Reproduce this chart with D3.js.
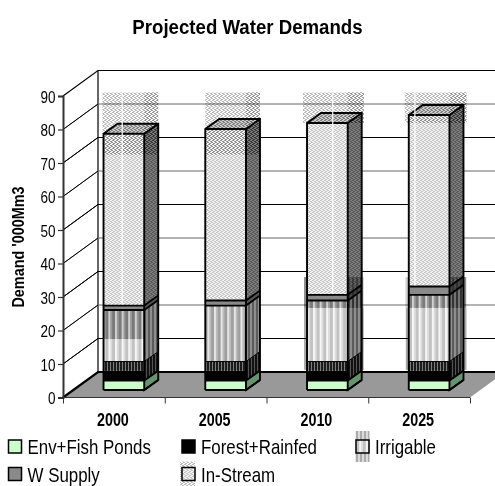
<!DOCTYPE html>
<html>
<head>
<meta charset="utf-8">
<style>
html,body{margin:0;padding:0;background:#fff}
svg{display:block}
text{font-family:"Liberation Sans",Arial,sans-serif;fill:#000}
</style>
<script src="https://cdn.jsdelivr.net/npm/d3@7"></script>
</head>
<body>
<svg id="chart" width="495" height="486"></svg>
<script>
// Stacked demand figures, thousand Mm3
const categories = ["2000", "2005", "2010", "2025"];
const envFish = [2.8, 2.8, 2.8, 2.8];
const forestRainfed = [5.7, 5.7, 5.7, 5.7];
const irrigable = [15.4, 16.7, 18.2, 19.9];
const wSupply = [1.3, 1.5, 1.7, 2.5];
const inStream = [51.3, 51.2, 51.3, 51.2];
const yTicks = [0, 10, 20, 30, 40, 50, 60, 70, 80, 90];

const W = 495, H = 486;
const svg = d3.select("#chart");
const y = d3.scaleLinear().domain([0, 90]).range([397.5, 96]);
const x = d3.scaleBand().domain(categories).range([63, 470]).paddingInner(0.6).paddingOuter(0.3);
const edges = d3.scaleLinear().domain([0, categories.length]).range([63, 470]);

// Oblique projection offsets
const wall = {dx: 35, dy: -25.5};
const plane = {dx: 10, dy: -7.5};
const depth = {dx: 14, dy: -10};
const NARROW = 0.82;

const defs = svg.append("defs");
function stripes(id, width, bands) {
  const p = defs.append("pattern").attr("id", id).attr("patternUnits", "userSpaceOnUse")
    .attr("width", width).attr("height", 4);
  bands.forEach(b => p.append("rect").attr("x", b[0]).attr("width", b[1]).attr("height", 4)
    .attr("fill", b[2]).attr("shape-rendering", "crispEdges"));
}
function dither(id, on, off) {
  const p = defs.append("pattern").attr("id", id).attr("patternUnits", "userSpaceOnUse")
    .attr("width", 4).attr("height", 4);
  if (off) p.append("rect").attr("width", 4).attr("height", 4).attr("fill", off);
  [[0,0,2,1],[2,1,2,1],[0,2,1,1],[1,3,2,1],[3,2,1,1]].forEach(c =>
    p.append("rect").attr("x", c[0]).attr("y", c[1]).attr("width", c[2]).attr("height", c[3])
      .attr("fill", on).attr("shape-rendering", "crispEdges"));
}
dither("streamFace", "#c6c6c6", "#f4f4f4");
dither("streamSide", "#5a5a5a", "#7c7c7c");
dither("streamTop", "#b0b0b0", "#cccccc");
dither("streamHaze", "#bcbcbc", null);
dither("streamHazeSide", "#969696", null);
stripes("irrLight", 6.6, [[0,2.6,"#c2c2c2"],[2.6,2.2,"#f6f6f6"],[4.8,1.8,"#dcdcdc"]]);
stripes("irrMid", 6.6, [[0,2.6,"#a0a0a0"],[2.6,2.2,"#e6e6e6"],[4.8,1.8,"#bcbcbc"]]);
stripes("irrDark", 6.6, [[0,2.6,"#7a7a7a"],[2.6,2.2,"#d0d0d0"],[4.8,1.8,"#989898"]]);
stripes("irrSide", 4, [[0,2,"#5c5c5c"],[2,2,"#8e8e8e"]]);
stripes("irrHaze", 4, [[0,2,"#8f8f8f"],[2,2,"#cfcfcf"]]);
stripes("forestFace", 3, [[0,1.6,"#1a1a1a"],[1.6,1.4,"#7d7d7d"]]);
stripes("forestSide", 3, [[0,2,"#111"],[2,1,"#555"]]);

// Chart frame: side wall, back wall, floor
const frame = svg.append("g");
frame.append("path")
  .attr("d", `M63,${y(90)}L${63+wall.dx},${y(90)+wall.dy}H${W}`)
  .attr("fill", "none").attr("stroke", "#000").attr("stroke-width", 1.2);
frame.append("line").attr("x1", 63+wall.dx).attr("x2", 63+wall.dx)
  .attr("y1", y(90)+wall.dy).attr("y2", y(0)+wall.dy).attr("stroke", "#000").attr("stroke-width", 1.2);

const gridColor = d => (d / 10) % 2 === 0 ? "#666" : "#000";
frame.selectAll("path.grid").data(yTicks.filter(d => d > 0 && d < 90)).join("path")
  .attr("class", "grid")
  .attr("d", d => `M63,${y(d)}L${63+wall.dx},${y(d)+wall.dy}H${W}`)
  .attr("fill", "none").attr("stroke", gridColor).attr("stroke-width", 1);
frame.selectAll("path.gridSide").data(yTicks.filter(d => d > 0 && d < 90)).join("path")
  .attr("class", "gridSide")
  .attr("d", d => `M63,${y(d)}L${63+wall.dx},${y(d)+wall.dy}`)
  .attr("fill", "none").attr("stroke", "#000").attr("stroke-width", 1);

frame.append("path")
  .attr("d", `M63,${y(0)}H470L${470+wall.dx},${y(0)+wall.dy}H${63+wall.dx}Z`)
  .attr("fill", "#999");
frame.append("path")
  .attr("d", `M63,${y(0)}L${63+wall.dx},${y(0)+wall.dy}H${W}`)
  .attr("fill", "none").attr("stroke", "#000").attr("stroke-width", 2.2);
frame.append("path").attr("d", `M63,${y(0)}H470`).attr("stroke", "#333").attr("stroke-width", 1.2);

// Axes
const yAxis = d3.axisLeft(y).tickValues(yTicks).tickSize(5).tickPadding(2);
const gy = svg.append("g").attr("transform", "translate(63,0)").call(yAxis);
gy.select(".domain").attr("stroke", "#333").attr("stroke-width", 2);
gy.selectAll(".tick line").attr("stroke", "#333").attr("stroke-width", 1.2);
gy.selectAll(".tick text").attr("font-size", 16.5).attr("fill", "#000")
  .attr("font-family", '"Liberation Sans",Arial,sans-serif')
  .attr("text-anchor", "end").attr("x", 0).attr("dy", null).attr("y", 0)
  .attr("transform", d => `translate(-7.5,${6}) scale(${NARROW},1)`);

const xAxis = d3.axisBottom(edges).ticks(categories.length).tickSize(6).tickFormat("");
const gx = svg.append("g").attr("transform", `translate(0,${y(0)})`).call(xAxis);
gx.select(".domain").remove();
gx.selectAll(".tick line").attr("stroke", "#333").attr("stroke-width", 1);

// Stacks
const stacks = categories.map((c, i) => {
  const a = envFish[i], b = a + forestRainfed[i], d = b + irrigable[i], e = d + wSupply[i], f = e + inStream[i];
  return {c, i, x0: x(c) + plane.dx, x1: x(c) + x.bandwidth() + plane.dx, levels: [0, a, b, d, e, f]};
});
const py = v => y(v) + plane.dy;
// Height on the front plane where the floor line crosses the forest block
const forestBreak = 5.7;
// Irrigable shading per bar: base tone and the height where the darker band starts
const irrigableBase = ["url(#irrLight)", "url(#irrMid)", "url(#irrLight)", "url(#irrLight)"];
const irrigableShadeFloor = [15.2, 30, 24.5, 24.5];
const streamFill = ["url(#streamFace)", "url(#streamSide)"];

const barG = svg.append("g");
stacks.forEach(s => {
  const g = barG.append("g");
  const w = s.x1 - s.x0;
  const face = (lo, hi, fill) => g.append("rect").attr("x", s.x0).attr("width", w)
    .attr("y", py(hi)).attr("height", py(lo) - py(hi)).attr("fill", fill);
  const side = (lo, hi, fill) => g.append("path")
    .attr("d", `M${s.x1},${py(lo)}L${s.x1+depth.dx},${py(lo)+depth.dy}V${py(hi)+depth.dy}L${s.x1},${py(hi)}Z`)
    .attr("fill", fill);
  const [l0, l1, l2, l3, l4, l5] = s.levels;

  side(l0, l1, "#669470");
  side(l1, l2, "url(#forestSide)");
  side(l2, l3, "url(#irrSide)");
  side(l3, l4, "#555");
  side(l4, l5, streamFill[1]);
  g.append("path")
    .attr("d", `M${s.x0},${py(l5)}L${s.x0+depth.dx},${py(l5)+depth.dy}H${s.x1+depth.dx}L${s.x1},${py(l5)}Z`)
    .attr("fill", "url(#streamTop)");

  face(l0, l1, "#ccffcc");
  face(l1, forestBreak, "#000");
  face(forestBreak, l2, "url(#forestFace)");
  face(l2, l3, irrigableBase[s.i]);
  if (irrigableShadeFloor[s.i] < l3) face(irrigableShadeFloor[s.i], l3, "url(#irrDark)");
  face(l3, l4, "#8a8a8a");
  face(l4, l5, streamFill[0]);

  // Block outlines
  const ln = g.append("g").attr("fill", "none").attr("stroke", "#000").attr("stroke-width", 1.9);
  [l0, l1, l2, l3, l4].forEach(v => {
    ln.append("path").attr("d", `M${s.x0},${py(v)}H${s.x1}L${s.x1+depth.dx},${py(v)+depth.dy}`)
      .attr("stroke-width", v === l2 ? 1 : 1.9);
  });
  ln.append("path").attr("d",
    `M${s.x0},${py(l0)}V${py(l5)}L${s.x0+depth.dx},${py(l5)+depth.dy}H${s.x1+depth.dx}V${py(l0)+depth.dy}L${s.x1},${py(l0)}V${py(l5)}H${s.x0}M${s.x1},${py(l5)}L${s.x1+depth.dx},${py(l5)+depth.dy}`)
    .attr("stroke-linejoin", "miter");
});

// Pattern bleed above and around the stacks
const hazeLeft = [1, 0, 4, 4];
const hazeRight = [0, 0, 2, 3];
const hazeBottom = [70.3, 70.3, 79.7, 79.7];
const hazeGap = [0.46, null, 0.63, 0.15];
const hazeTopValue = 88.8;
const hazeG = svg.append("g").style("mix-blend-mode", "multiply");
stacks.forEach(s => {
  const left = s.x0 - hazeLeft[s.i], right = s.x1 + depth.dx + hazeRight[s.i];
  const top = py(hazeTopValue), bot = py(hazeBottom[s.i]);
  hazeG.append("rect").attr("x", left).attr("y", top).attr("width", right - left).attr("height", bot - top)
    .attr("fill", "url(#streamHaze)");
  hazeG.append("rect").attr("x", s.x1).attr("y", top).attr("width", right - s.x1).attr("height", bot - top)
    .attr("fill", "url(#streamHazeSide)");
  if (s.i >= 2) {
    const itop = py(33.7), ibot = py(24.5);
    [[left + 1, s.x0], [s.x1, right]].forEach(r =>
      hazeG.append("rect").attr("x", r[0]).attr("y", itop).attr("width", r[1] - r[0])
        .attr("height", ibot - itop).attr("fill", "url(#irrHaze)"));
    hazeG.append("rect").attr("x", left + 1).attr("y", ibot).attr("width", s.x0 - left - 1)
      .attr("height", py(6) - ibot).attr("fill", "#aaa");
    hazeG.append("rect").attr("x", s.x1 + depth.dx).attr("y", ibot).attr("width", Math.max(right - s.x1 - depth.dx, 1))
      .attr("height", py(6) - ibot).attr("fill", "#aaa");
  }
});
// Pale seam running down each in-stream block
const seamG = svg.append("g");
stacks.forEach(s => {
  if (hazeGap[s.i] === null) return;
  const sx = s.x0 + hazeGap[s.i] * (s.x1 - s.x0);
  seamG.append("line").attr("x1", sx).attr("x2", sx).attr("y1", py(hazeTopValue))
    .attr("y2", py(s.levels[4]) - 1).attr("stroke", "#fff").attr("stroke-width", 1.4).attr("opacity", 0.85);
});

// Text helper: condensed Arial-style lettering
function label(px, pyy, str, size, weight, anchor, sx) {
  return svg.append("text").attr("transform", `translate(${px},${pyy}) scale(${sx || NARROW},1)`)
    .attr("font-size", size).attr("font-weight", weight || "normal")
    .attr("text-anchor", anchor || "start").text(str);
}
label(247.5, 34, "Projected Water Demands", 20.5, "bold", "middle", 0.91);
svg.append("text").attr("transform", `translate(23.5,247) rotate(-90) scale(0.9,1)`)
  .attr("font-size", 16).attr("font-weight", "bold").attr("text-anchor", "middle").text("Demand '000Mm3");
categories.forEach(c => label(x(c) + x.bandwidth() / 2 - 1, 426, c, 17.5, "bold", "middle"));

// Legend
const legendNames = ["Env+Fish Ponds", "Forest+Rainfed", "Irrigable", "W Supply", "In-Stream"];
const legendFill = ["#ccffcc", "#000", "url(#irrLight)", "#8a8a8a", "url(#streamFace)"];
const legendX = [8.5, 182, 356, 8.5, 182];
const legendY = [440, 440, 440, 467.5, 467.5];
const legendG = svg.append("g");
// Swatch bleed on the patterned entries
legendG.append("rect").attr("x", legendX[2] - 0.5).attr("y", 431).attr("width", 14).attr("height", 31).attr("fill", "url(#irrHaze)").attr("opacity", 0.75);
legendG.append("rect").attr("x", legendX[4] - 2).attr("y", 461.5).attr("width", 15).attr("height", 24.5).attr("fill", "url(#streamHaze)");
legendNames.forEach((n, i) => {
  legendG.append("rect").attr("x", legendX[i]).attr("y", legendY[i]).attr("width", 13).attr("height", 13)
    .attr("fill", legendFill[i]).attr("stroke", "#000").attr("stroke-width", 1.5);
  label(legendX[i] + 19, legendY[i] + 14, n, 20, "normal", "start", 0.845);
});
</script>
</body>
</html>
